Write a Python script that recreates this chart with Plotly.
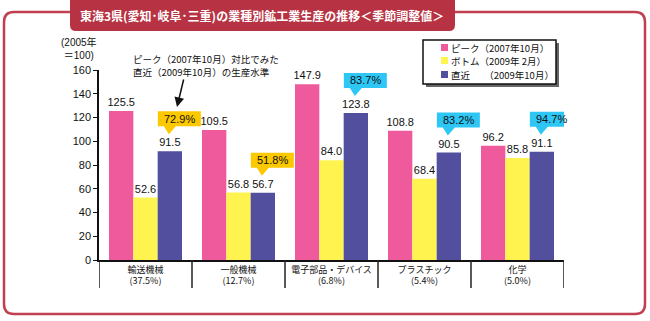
import plotly.graph_objects as go

categories = ["輸送機械<br>(37.5%)", "一般機械<br>(12.7%)", "電子部品・デバイス<br>(6.8%)",
              "プラスチック<br>(5.4%)", "化学<br>(5.0%)"]
series_names = ["ピーク（2007年10月）", "ボトム（2009年 2月）", "直近　　（2009年10月）"]
peak = [125.5, 109.5, 147.9, 108.8, 96.2]
bottom = [52.6, 56.8, 84.0, 68.4, 85.8]
latest = [91.5, 56.7, 123.8, 90.5, 91.1]
ratio = ["72.9%", "51.8%", "83.7%", "83.2%", "94.7%"]
y_ticks = [0, 20, 40, 60, 80, 100, 120, 140, 160]
note_lines = ["ピーク（2007年10月）対比でみた", "直近（2009年10月）の生産水準"]

colors = ["#ef5a9c", "#fff350", "#524f9f"]
callout_colors = ["#fcc800", "#fcc800", "#2ec7f5", "#2ec7f5", "#2ec7f5"]
FONT = "Liberation Sans, Noto Sans CJK JP"
JFONT = "Noto Sans CJK JP"

# plot area in pixels
L, R, T, B = 99, 564, 70, 260
W, H = 650, 321
BARGAP = 0.215
xs = list(range(len(categories)))

fig = go.Figure()
for name, vals, col in zip(series_names, [peak, bottom, latest], colors):
    fig.add_trace(go.Bar(
        x=xs, y=vals, name=name, marker=dict(color=col, line=dict(width=0)),
        text=[f"{v:.1f}" for v in vals], textposition="outside", constraintext="none",
        textfont=dict(family=FONT, size=11, color="#111"), cliponaxis=False,
        showlegend=False))


def rel(px, py):
    return px - L, B - py


def rrect_path(x0, y0, x1, y1, r):
    l, t = rel(x0, y0)
    rr_, b = rel(x1, y1)
    return (f"M{l+r},{t} L{rr_-r},{t} Q{rr_},{t} {rr_},{t-r} L{rr_},{b+r} Q{rr_},{b} {rr_-r},{b} "
            f"L{l+r},{b} Q{l},{b} {l},{b+r} L{l},{t-r} Q{l},{t} {l+r},{t} Z")


def pix_shape(path, **kw):
    d = dict(type="path", xref="paper", yref="paper", xsizemode="pixel", ysizemode="pixel",
             xanchor=0, yanchor=0, path=path)
    d.update(kw)
    return d


shapes = []
# outer frame
shapes.append(pix_shape(rrect_path(4, 12, 645, 314, 10), line=dict(color="#c0404f", width=2.5),
                        fillcolor="rgba(0,0,0,0)", layer="below"))
# title banner
shapes.append(pix_shape(rrect_path(70, -8, 455, 31, 6), line=dict(width=0), fillcolor="#b73343",
                        layer="above"))
# category separators below axis
for k in range(len(categories) + 1):
    shapes.append(dict(type="line", xref="x", yref="paper", x0=k - 0.5, x1=k - 0.5,
                       y0=0, y1=-(288 - B) / (B - T), line=dict(color="#222", width=1.5)))
# legend box with shadow
shapes.append(pix_shape(rrect_path(426, 43, 559, 87, 0), line=dict(width=0), fillcolor="#666"))
shapes.append(pix_shape(rrect_path(423, 40, 556, 84, 0), line=dict(color="#111", width=1.5),
                        fillcolor="white"))

annotations = []
legend_rows = [48, 61, 75]
for name, col, yy in zip(series_names, colors, legend_rows):
    shapes.append(pix_shape(rrect_path(441, yy - 4, 448, yy + 3, 0), line=dict(width=0),
                            fillcolor=col))
    annotations.append(dict(xref="paper", yref="paper", x=(449 - L) / (R - L), y=(B - yy) / (B - T),
                            text=name, showarrow=False, xanchor="left", yanchor="middle",
                            font=dict(family=JFONT, size=9.5, color="#111")))

# callouts above latest bars
bw = (1 - BARGAP) / 3
for i, (v, txt, cc) in enumerate(zip(latest, ratio, callout_colors)):
    xa = i + bw
    path = "M-12,25 L-6,25 L-1,17 L6,25 L31,25 L31,40 L-12,40 Z"
    shapes.append(dict(type="path", xref="x", yref="y", xsizemode="pixel", ysizemode="pixel",
                       xanchor=xa, yanchor=v, path=path, fillcolor=cc, line=dict(width=0)))
    annotations.append(dict(xref="x", yref="y", x=xa, y=v, xshift=9.5, yshift=32.5, text=txt,
                            showarrow=False, xanchor="center", yanchor="middle",
                            font=dict(family=FONT, size=11, color="#111")))

# title
annotations.append(dict(xref="paper", yref="paper", x=(262 - L) / (R - L), y=(B - 15) / (B - T),
                        text="<b>東海3県(愛知･岐阜･三重)の業種別鉱工業生産の推移＜季節調整値＞</b>",
                        showarrow=False, xanchor="center", yanchor="middle",
                        font=dict(family=JFONT, size=12, color="white")))
# y axis unit
annotations.append(dict(xref="paper", yref="paper", x=(79 - L) / (R - L), y=(B - 48) / (B - T),
                        text="(2005年<br>＝100)", showarrow=False, xanchor="center", yanchor="middle",
                        align="center", font=dict(family=FONT, size=10, color="#111")))
# note text (two lines) and arrow
for line_text, yy in zip(note_lines, [59, 72]):
    annotations.append(dict(xref="paper", yref="paper", x=(131 - L) / (R - L), y=(B - yy) / (B - T),
                            text=line_text, showarrow=False, xanchor="left", yanchor="middle",
                            font=dict(family=JFONT, size=9.5, color="#111")))
annotations.append(dict(xref="paper", yref="paper", x=(177 - L) / (R - L), y=(B - 107) / (B - T),
                        text="", showarrow=True, ax=7, ay=-29, arrowhead=2, arrowsize=1.3,
                        arrowwidth=1.5, arrowcolor="#111"))

fig.update_layout(
    width=W, height=H, autosize=False,
    margin=dict(l=L, r=W - R, t=T, b=H - B, pad=0),
    paper_bgcolor="white", plot_bgcolor="white",
    barmode="group", bargap=BARGAP, bargroupgap=0,
    shapes=shapes, annotations=annotations,
    font=dict(family=FONT, color="#111"),
    xaxis=dict(range=[-0.5, 4.5], tickvals=xs, ticktext=categories, ticks="", showgrid=False,
               zeroline=False, showline=True, linecolor="#111", linewidth=1.5,
               tickfont=dict(family=JFONT, size=9, color="#111"), fixedrange=True),
    yaxis=dict(range=[0, 160], tickvals=y_ticks, ticks="outside", ticklen=4, tickcolor="#111",
               showgrid=False, zeroline=False, showline=True, linecolor="#111", linewidth=1.5,
               tickfont=dict(family=FONT, size=11, color="#111"), fixedrange=True),
)

fig.write_html("out.html")
